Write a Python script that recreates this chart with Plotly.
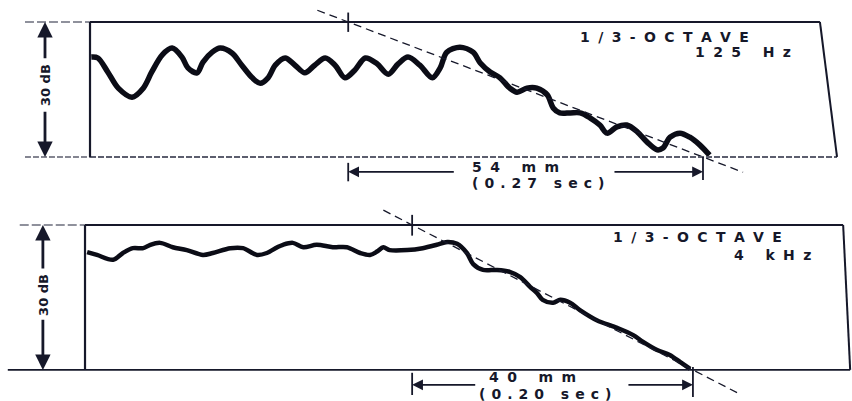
import plotly.graph_objects as go

# ---------------------------------------------------------------------------
# Level-recorder decay traces: chart-paper position (mm) vs level (dB re. the
# steady-state level, top of the 30 dB writing range = 0 dB)
# ---------------------------------------------------------------------------
lf_mm = [0.2, 1.2, 2.7, 4.3, 6.4, 8.1, 9.4, 11.0, 12.5, 14.0, 14.9, 16.3, 17.2,
         18.6, 19.8, 21.6, 23.1, 24.7, 25.9, 27.1, 28.2, 29.7, 31.2, 32.7, 34.2,
         35.8, 37.3, 38.8, 40.3, 41.9, 43.7, 45.4, 46.9, 48.4, 50.2, 52.1, 53.3,
         54.3, 56.3, 58.3, 59.4, 60.9, 62.4, 63.9, 65.0, 66.5, 68.0, 69.6, 70.5,
         71.5, 73.1, 74.6, 76.1, 77.6, 78.7, 80.2, 81.7, 83.3, 84.8, 86.3, 87.2,
         88.3, 89.8, 91.3, 92.8, 94.3]
lf_db = [-7.8, -8.0, -11.1, -14.7, -16.7, -14.7, -11.1, -7.3, -5.8, -7.8, -10.2,
         -11.3, -8.9, -6.7, -5.8, -6.9, -9.6, -12.4, -13.6, -12.4, -9.6, -8.0,
         -9.6, -11.3, -9.6, -8.0, -9.6, -12.4, -10.7, -8.0, -9.3, -11.6, -9.3,
         -7.8, -9.6, -12.4, -10.2, -6.7, -5.6, -6.7, -9.1, -11.1, -12.4, -14.7,
         -15.6, -14.7, -14.7, -16.2, -19.1, -20.2, -20.2, -20.2, -21.3, -22.9,
         -24.7, -23.3, -22.9, -24.4, -26.7, -28.4, -28.0, -25.6, -24.7, -25.6,
         -27.3, -29.6]

hf_mm = [0.3, 1.7, 4.0, 5.4, 6.8, 8.3, 9.3, 10.7, 12.5, 14.5, 16.8, 18.2, 20.7,
         22.5, 24.5, 25.9, 27.4, 28.2, 29.6, 31.1, 33.0, 35.3, 37.3, 39.2, 40.6,
         41.6, 42.5, 43.4, 45.9, 48.1, 50.1, 51.6, 53.0, 54.4, 55.3, 56.7, 58.7,
         60.5, 62.0, 63.4, 64.4, 65.2, 66.7, 67.7, 69.1, 70.5, 72.9, 75.8, 78.1,
         79.5, 81.5, 83.3, 84.8, 86.2]
hf_db = [-5.6, -6.2, -7.2, -5.8, -4.8, -4.8, -4.1, -3.7, -4.6, -5.2, -6.2, -5.8,
         -4.8, -4.8, -6.2, -5.8, -4.6, -4.1, -3.7, -4.6, -4.1, -4.6, -4.6, -5.8,
         -6.2, -5.5, -4.6, -5.2, -5.2, -4.8, -4.1, -3.5, -3.9, -5.8, -8.1, -9.3,
         -9.3, -9.7, -10.8, -12.8, -14.1, -15.5, -16.1, -15.5, -16.1, -17.6,
         -19.7, -21.3, -22.8, -24.2, -25.9, -26.9, -28.4, -29.8]

# Fitted straight-line decays: 0 dB crossing and length of the 30 dB fall (mm)
decay_start_mm = [39.3, 46.6]
decay_span_mm = [54.0, 40.0]

PAPER_SPEED = 200.0   # mm/s
RANGE_DB = 30.0

band_label = ["1/3-OCTAVE", "1/3-OCTAVE"]
band_freq = ["125 Hz", "4 kHz"]
range_label = "30 dB"

INK = "#16182a"
FONT = "DejaVu Sans"

EN = "\u2002"
HAIR = "\u200a"
THREE = "\u2004"


def tracked(text, gap):
    """Letter-spaced label, like the stencil lettering on the chart."""
    return gap.join(text)


# Per-panel geometry of the recorder frame and labels (mm / dB units)
panels = [
    dict(xa="x", ya="y", trace=(lf_mm, lf_db), lw=5.5,
         frame_top=(-9.9, 111.1), frame_bot=(-9.9, 113.7),
         bot_dash="6px,2px", bot_col="#5c5e6e",
         scale_x=-6.85, arrow_tails=(-8.4, -19.6), scale_text_y=-14.0,
         dim_y=-33.3, dim_gap=(55.6, 79.6), tick_l=(-31.3, -35.4), tick_r=(-30.0, -35.1),
         fit_ext=(4.7, 6.1),
         title_xy=(87.5, -3.3), freq_xy=(107.0, -6.7),
         mm_xy=(64.8, -32.3), sec_xy=(68.2, -35.8)),
    dict(xa="x2", ya="y2", trace=(hf_mm, hf_db), lw=4.5,
         frame_top=(-9.3, 108.0), frame_bot=(-11.0, 109.0),
         bot_dash="solid", bot_col=INK,
         scale_x=-6.0, arrow_tails=(-9.3, -19.3), scale_text_y=-14.5,
         dim_y=-33.1, dim_gap=(55.8, 77.2), tick_l=(-30.6, -35.2), tick_r=(-29.4, -35.6),
         fit_ext=(4.1, 6.7),
         title_xy=(87.2, -2.5), freq_xy=(103.7, -6.2),
         mm_xy=(63.7, -31.5), sec_xy=(65.5, -35.0)),
]

fig = go.Figure()
shapes = []
annotations = []


def seg(p, x0, y0, x1, y1, width=2.0, color=INK, dash="solid"):
    shapes.append(dict(type="line", xref=p["xa"], yref=p["ya"], x0=x0, y0=y0,
                       x1=x1, y1=y1, line=dict(color=color, width=width, dash=dash)))


def arrow(p, x, y, ax, ay, width=2.0, size=1.2):
    annotations.append(dict(xref=p["xa"], yref=p["ya"], axref=p["xa"], ayref=p["ya"],
                            x=x, y=y, ax=ax, ay=ay, text="", showarrow=True,
                            arrowhead=2, arrowwidth=width, arrowsize=size,
                            arrowcolor=INK, standoff=0, startstandoff=0))


def label(p, x, y, text, size=14, xanchor="center", angle=0):
    annotations.append(dict(xref=p["xa"], yref=p["ya"], x=x, y=y, text=text,
                            showarrow=False, xanchor=xanchor, yanchor="middle",
                            textangle=angle,
                            font=dict(family=FONT, size=size, color=INK, weight="bold")))


for i, p in enumerate(panels):
    mm, db = p["trace"]
    start = decay_start_mm[i]
    span = decay_span_mm[i]
    end = start + span
    slope = -RANGE_DB / span

    # recorder trace
    fig.add_trace(go.Scatter(x=mm, y=db, mode="lines", xaxis=p["xa"], yaxis=p["ya"],
                             line=dict(color="#0b0c16", width=p["lw"], shape="spline",
                                       smoothing=0.9),
                             hoverinfo="skip"))

    # fitted decay line, extended past both reference levels
    e0, e1 = p["fit_ext"]
    fx = [start - e0, end + e1]
    fy = [slope * (v - start) for v in fx]
    fig.add_trace(go.Scatter(x=fx, y=fy, mode="lines", xaxis=p["xa"], yaxis=p["ya"],
                             line=dict(color=INK, width=1.3, dash="8px,5px"),
                             hoverinfo="skip"))

    # recorder frame: 0 dB and -30 dB lines, left and right edges
    tl, tr = p["frame_top"]
    bl, br = p["frame_bot"]
    seg(p, tl, 0, 0, 0, width=1.4, color="#6b6d7c", dash="9px,3px")
    seg(p, 0, 0, tr, 0, width=2.0)
    seg(p, bl, -RANGE_DB, 0, -RANGE_DB, width=1.6, color=p["bot_col"], dash=p["bot_dash"])
    seg(p, 0, -RANGE_DB, br, -RANGE_DB, width=1.8, color=p["bot_col"], dash=p["bot_dash"])
    seg(p, 0, 0, 0, -RANGE_DB, width=2.2)
    seg(p, tr, 0, br, -RANGE_DB, width=2.0)

    # marker where the fitted line leaves the 0 dB level
    seg(p, start, 2.1, start, -2.2, width=1.8)

    # 30 dB scale bar
    sx = p["scale_x"]
    t_up, t_dn = p["arrow_tails"]
    arrow(p, sx, 0, sx, t_up, width=2.8, size=1.1)
    arrow(p, sx, -RANGE_DB, sx, t_dn, width=2.8, size=1.1)
    label(p, sx, p["scale_text_y"], range_label, size=13, angle=-90)

    # decay-length dimension
    dy = p["dim_y"]
    seg(p, start, p["tick_l"][0], start, p["tick_l"][1], width=1.8)
    seg(p, end, p["tick_r"][0], end, p["tick_r"][1], width=1.8)
    g0, g1 = p["dim_gap"]
    arrow(p, start, dy, g0, dy, width=1.8, size=1.2)
    arrow(p, end, dy, g1, dy, width=1.8, size=1.2)
    mm_text = f"{span:.0f} mm"
    sec_text = f"({span / PAPER_SPEED:.2f} sec)"
    label(p, *p["mm_xy"], tracked(mm_text, EN + HAIR), size=14)
    label(p, *p["sec_xy"], tracked(sec_text, THREE + HAIR), size=14)

    # band identification
    label(p, *p["title_xy"], tracked(band_label[i], EN + HAIR), size=14)
    label(p, *p["freq_xy"], tracked(band_freq[i], EN + HAIR), size=14, xanchor="right")

split = 1 - 200 / 401
fig.update_layout(
    width=852, height=401,
    margin=dict(l=0, r=0, t=0, b=0),
    paper_bgcolor="white", plot_bgcolor="white",
    showlegend=False,
    xaxis=dict(domain=[0, 1], range=[-13.70, 115.98], visible=False, anchor="y"),
    yaxis=dict(domain=[split, 1], range=[-39.556, 4.889], visible=False, anchor="x"),
    xaxis2=dict(domain=[0, 1], range=[-12.11, 109.26], visible=False, anchor="y2"),
    yaxis2=dict(domain=[0, split], range=[-36.44, 5.176], visible=False, anchor="x2"),
    shapes=shapes,
    annotations=annotations,
)

fig.write_html("out.html")
